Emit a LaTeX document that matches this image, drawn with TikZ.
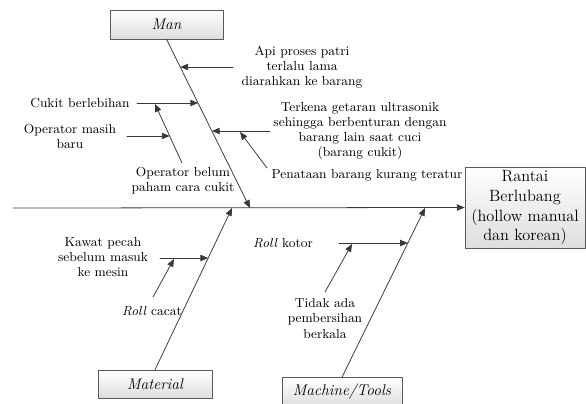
\documentclass[tikz,border=0pt]{standalone}
\usetikzlibrary{arrows.meta,shadows}
\begin{document}
\begin{tikzpicture}[x=0.025cm, y=-0.025cm, line join=round, line cap=round, >={Triangle[length=5.5pt,width=4.5pt]},
	tulang/.style={->, draw=black!78, line width=0.55pt},
	kotak/.style={draw=black!65, top color=white, bottom color=black!13, inner sep=0pt,
		drop shadow={opacity=0.25, shadow xshift=0.8pt, shadow yshift=-0.8pt},
		font=\fontsize{11}{13}\selectfont\itshape},
	teks/.style={align=center, inner sep=0pt, font=\fontsize{9.3}{10.8}\selectfont}]
	\useasboundingbox (0,0) rectangle (586,403);
	%% Kotak kategori dan akibat
	\node[kotak, minimum width=2.825cm, minimum height=0.725cm] (Man) at (166.5,24.5) {Man};
	\node[kotak, minimum width=2.85cm, minimum height=0.7cm] (Mat) at (155,384) {Material};
	\node[kotak, minimum width=3cm, minimum height=0.725cm] (Mes) at (342,392) {Machine/Tools};
	\node[kotak, minimum width=3cm, minimum height=2.025cm, font=\fontsize{11.6}{14.2}\selectfont,
		align=center] (Akibat) at (525,207.5) {Rantai\\Berlubang\\(hollow manual\\dan korean)};
	%% Khai bao diem
	\path
	(13,208) coordinate (E)
	(250,208) coordinate (M)
	(232,208) coordinate (T)
	(425,208) coordinate (K)
	%% cabang man
	(233,67) coordinate (A1) (180.3,67) coordinate (A2)
	(137,103) coordinate (C1) (198.1,103) coordinate (C2)
	(182,163) coordinate (B1) (155,104) coordinate (B2)
	(127,136) coordinate (O1) (169.6,136) coordinate (O2)
	(270,131) coordinate (G1) (212,131) coordinate (G2)
	(267,168) coordinate (P1) (240,132) coordinate (P2)
	%% cabang material
	(160,258) coordinate (W1) (208.2,258) coordinate (W2)
	(153,297) coordinate (R1) (174,259) coordinate (R2)
	%% cabang machine
	(339,243) coordinate (S1) (407.9,243) coordinate (S2)
	(325,292) coordinate (D1) (352,244) coordinate (D2)
	;
	%% Tulang utama
	\draw[tulang] (E)--(Akibat.west);
	\draw[tulang] (Man.south)--(M);
	\draw[tulang] (Mat.north)--(T);
	\draw[tulang] (Mes.north)--(K);
	%% vẽ cabang
	\foreach \a/\b in {A1/A2,C1/C2,B1/B2,O1/O2,G1/G2,P1/P2,W1/W2,R1/R2,S1/S2,D1/D2}
	\draw[tulang] (\a)--(\b);
	%% Teks penyebab
	\node[teks] (api) at (302,67) {Api proses patri\\terlalu lama\\diarahkan ke barang};
	\node[teks] (cuk) at (80,103) {Cukit berlebihan};
	\node[teks] (opm) at (70,136.5) {Operator masih\\baru};
	\node[teks] (opb) at (183,180.5) {Operator belum\\paham cara cukit};
	\node[teks] (ter) at (360,131) {Terkena getaran ultrasonik\\sehingga berbenturan dengan\\barang lain saat cuci\\(barang cukit)};
	\node[teks] (pen) at (367,175) {Penataan barang kurang teratur};
	\node[teks] (kaw) at (103,257) {Kawat pecah\\sebelum masuk\\ke mesin};
	\node[teks] (rca) at (152,311) {\textit{Roll} cacat};
	\node[teks] (rko) at (283,243) {\textit{Roll} kotor};
	\node[teks] (tid) at (325,318.5) {Tidak ada\\pembersihan\\berkala};
\end{tikzpicture}
\end{document}
